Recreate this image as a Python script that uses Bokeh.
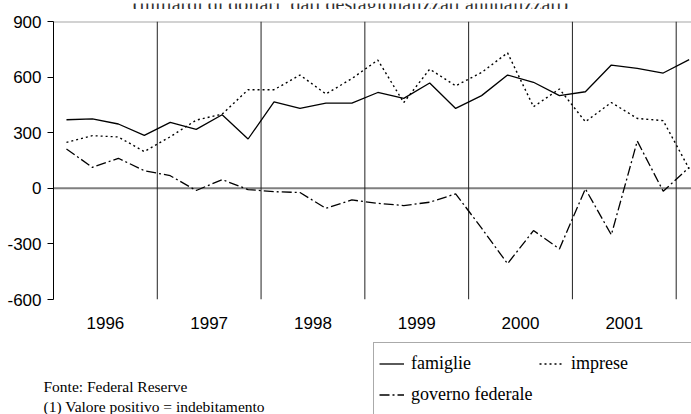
from bokeh.plotting import figure
from bokeh.layouts import column
from bokeh.models import Span, Legend, LegendItem, Label, FixedTicker, Range1d
from bokeh.embed import file_html
from bokeh.resources import INLINE

# quarterly data, 1996 Q1 .. 2002 Q1 (billions of dollars, annualized)
quarters = ["1996T1", "1996T2", "1996T3", "1996T4",
            "1997T1", "1997T2", "1997T3", "1997T4",
            "1998T1", "1998T2", "1998T3", "1998T4",
            "1999T1", "1999T2", "1999T3", "1999T4",
            "2000T1", "2000T2", "2000T3", "2000T4",
            "2001T1", "2001T2", "2001T3", "2001T4",
            "2002T1"]
famiglie = [370, 375, 347, 286, 356, 318, 397, 266, 466, 431, 460, 460,
            517, 485, 568, 431, 500, 611, 572, 500, 521, 665, 647, 622, 694]
imprese = [248, 284, 277, 198, 278, 368, 400, 532, 532, 611, 509, 592,
           692, 463, 643, 553, 625, 731, 440, 536, 359, 463, 377, 365, 105]
governo = [212, 113, 162, 95, 68, -12, 47, -7, -18, -23, -108, -63,
           -81, -93, -75, -30, -215, -407, -228, -327, -3, -251, 255, -16, 113]

year_labels = ["1996", "1997", "1998", "1999", "2000", "2001"]
y_ticks = [-600, -300, 0, 300, 600, 900]
series_names = ["famiglie", "imprese", "governo federale"]
title_text = "(miliardi di dollari, dati destagionalizzati annualizzati)"
source_text = "Fonte: Federal Reserve"
note_text = "(1) Valore positivo = indebitamento"

W = 691


def no_align(f):
    try:
        f.frame_align = False
    except AttributeError:
        pass
    return f


def strip(h):
    f = figure(width=W, height=h, x_range=Range1d(0, W), y_range=Range1d(0, h),
               output_backend="svg", toolbar_location=None,
               x_axis_location=None, y_axis_location=None,
               min_border_left=0, min_border_right=0, min_border_top=0,
               min_border_bottom=0, outline_line_color=None,
               background_fill_color="white", border_fill_color="white")
    f.grid.visible = False
    return no_align(f)


# ---- top strip: title (only its lower part falls inside the page) ----
top = strip(9)
top.add_layout(Label(x=350, y=8.5, text=title_text, text_align="center",
                     text_baseline="alphabetic", text_font="Liberation Serif",
                     text_font_size="20px", text_color="#333333"))

# ---- main chart ----
x = [i + 0.5 for i in range(len(quarters))]

p = figure(width=W, height=330,
           x_range=Range1d(0, 24.59), y_range=Range1d(-600, 900),
           output_backend="svg", toolbar_location=None,
           min_border_left=53, min_border_right=0,
           min_border_top=12, min_border_bottom=40,
           background_fill_color="white", border_fill_color="white",
           outline_line_color=None)
no_align(p)
p.xgrid.visible = False
p.ygrid.visible = False

p.yaxis.ticker = FixedTicker(ticks=y_ticks)
p.yaxis.major_label_overrides = {t: str(t) for t in y_ticks}
p.yaxis.axis_line_color = "black"
p.yaxis.axis_line_width = 1
p.yaxis.major_tick_line_color = "black"
p.yaxis.major_tick_out = 6
p.yaxis.major_tick_in = 0
p.yaxis.minor_tick_line_color = None
p.yaxis.major_label_standoff = 6
p.yaxis.major_label_text_font = "Liberation Sans"
p.yaxis.major_label_text_font_size = "17px"
p.yaxis.major_label_text_color = "black"

year_pos = [4 * i + 2 for i in range(len(year_labels))]
p.xaxis.ticker = FixedTicker(ticks=year_pos)
p.xaxis.major_label_overrides = {pos: lab for pos, lab in zip(year_pos, year_labels)}
p.xaxis.axis_line_color = None
p.xaxis.major_tick_line_color = None
p.xaxis.minor_tick_line_color = None
p.xaxis.major_tick_out = 0
p.xaxis.major_tick_in = 0
p.xaxis.major_label_standoff = 17
p.xaxis.major_label_text_font = "Liberation Sans"
p.xaxis.major_label_text_font_size = "17px"
p.xaxis.major_label_text_color = "black"

p.add_layout(Span(location=900, dimension="width", line_color="#a6a6a6",
                  line_width=2, level="underlay"))
p.add_layout(Span(location=0, dimension="width", line_color="#7f7f7f",
                  line_width=2, level="underlay"))
for b in [4 * i for i in range(1, 7)]:
    p.add_layout(Span(location=b, dimension="height", line_color="#222222",
                      line_width=1, level="underlay"))

styles = [dict(line_color="black", line_width=1.3),
          dict(line_color="black", line_width=1.4, line_dash="2 3"),
          dict(line_color="black", line_width=1.3, line_dash="10 3 2 3")]
all_series = [famiglie, imprese, governo]
for ys, st in zip(all_series, styles):
    p.line(x, ys, **st)

# ---- bottom strip: legend and notes ----
bot = strip(75)
# hidden copies of the series, used only to draw the legend samples
proxies = [bot.line(x, ys, visible=False, **st) for ys, st in zip(all_series, styles)]
legend = Legend(items=[LegendItem(label=n, renderers=[r])
                       for n, r in zip(series_names, proxies)],
                location=(373, -2), orientation="horizontal", ncols=2,
                padding=5, spacing=0, margin=0,
                glyph_width=25, glyph_height=31, label_height=31,
                label_width=128, label_standoff=7,
                label_text_font="Liberation Serif", label_text_font_size="18px",
                label_text_color="black",
                border_line_color="#555555", border_line_width=1,
                background_fill_color="white", background_fill_alpha=1)
bot.add_layout(legend, "center")
bot.add_layout(Label(x=43, y=28, text=source_text, text_font="Liberation Serif",
                     text_font_size="15.5px", text_color="black",
                     text_baseline="alphabetic"))
bot.add_layout(Label(x=43, y=8, text=note_text, text_font="Liberation Serif",
                     text_font_size="15.5px", text_color="black",
                     text_baseline="alphabetic"))

layout = column(top, p, bot, spacing=0)
open("out.html", "w").write(file_html(layout, INLINE))
